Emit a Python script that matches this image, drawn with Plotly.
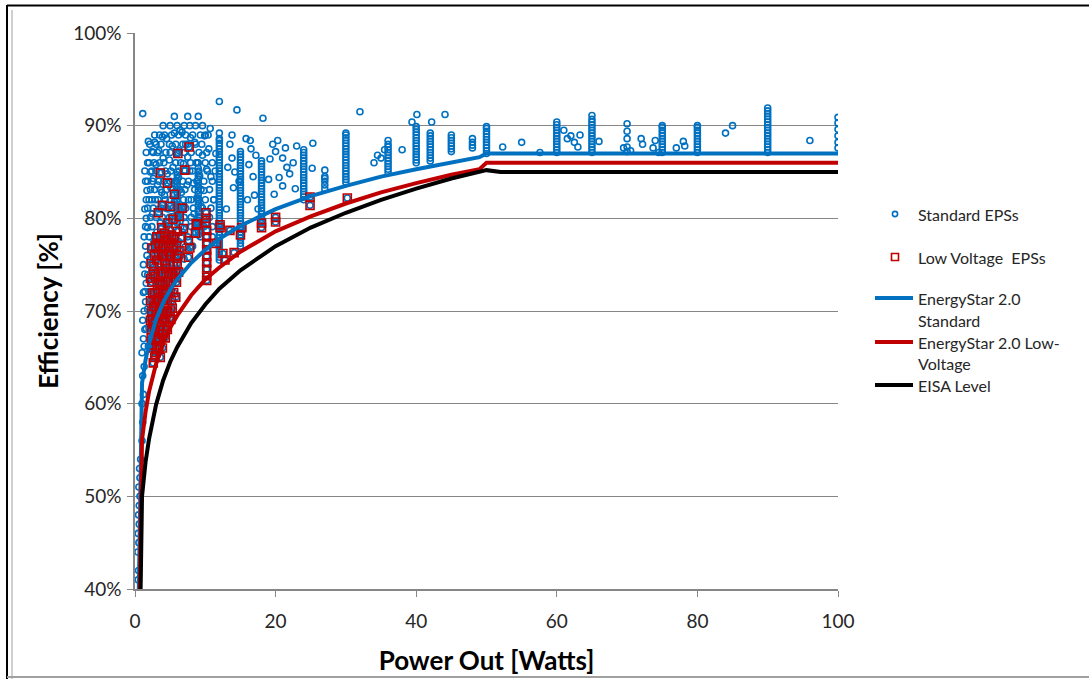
import plotly.graph_objects as go

# ---------------- data (percent efficiency vs watts) ----------------
# Standard EPS scattered points (x in W, y in %)
std_cloud = [
    (0.45, 41.0), (0.5, 42.0), (0.4, 44.0), (0.55, 45.0), (0.45, 46.0), (0.6, 47.0), (0.5, 48.0),
    (0.6, 49.0), (0.7, 50.0), (0.55, 51.0), (0.7, 52.0), (0.65, 53.0), (0.8, 54.0),
    (1.0, 56.0), (1.1, 58.0), (1.0, 60.0), (1.2, 61.0), (1.1, 63.0), (1.3, 64.0), (1.0, 65.5),
    (1.2, 67.0), (1.4, 68.0), (1.1, 69.0), (1.3, 70.0), (1.5, 71.0), (1.2, 72.0), (1.6, 73.0),
    (1.4, 74.0), (1.2, 75.0), (1.7, 76.0), (1.5, 77.0), (1.3, 78.0), (1.8, 79.0), (1.6, 80.0),
    (1.4, 81.0), (2.0, 82.0), (1.7, 83.0), (1.5, 84.0), (2.2, 85.0), (1.8, 86.0), (2.4, 87.2),
    (1.9, 88.3), (1.1, 91.3),
    (2.3, 66.0), (2.6, 68.0), (2.2, 69.5), (2.8, 70.5), (2.5, 72.0), (3.0, 73.0), (2.4, 74.5),
    (2.9, 75.5), (3.3, 76.5), (2.7, 77.5), (3.1, 78.5), (3.6, 79.5), (2.5, 80.5), (3.4, 81.0),
    (2.9, 82.0), (3.8, 82.8), (3.2, 83.6), (2.6, 84.3), (3.7, 85.0), (3.0, 85.8), (4.0, 86.5),
    (3.4, 87.3), (2.8, 88.2), (3.9, 88.8),
    (4.2, 72.0), (4.6, 73.5), (4.1, 75.0), (4.8, 76.0), (4.4, 77.2), (5.0, 78.3), (4.3, 79.3),
    (5.3, 80.2), (4.7, 81.0), (5.6, 81.8), (4.2, 82.5), (5.1, 83.3), (5.8, 84.0), (4.6, 84.8),
    (5.4, 85.5), (4.9, 86.3), (5.9, 87.0), (5.3, 87.8), (4.5, 88.6), (5.6, 89.2), (6.4, 89.5),
    (6.1, 74.5), (6.5, 76.0), (6.2, 77.5), (6.8, 78.5), (7.2, 79.5), (6.4, 80.5), (7.0, 81.3),
    (7.6, 82.0), (6.6, 82.8), (7.4, 83.6), (6.2, 84.4), (7.8, 85.1), (6.9, 85.9), (7.5, 86.6),
    (6.3, 87.3), (7.2, 88.0), (7.9, 88.7), (6.7, 89.3), (7.8, 90.0),
    (8.2, 77.0), (8.6, 78.5), (9.0, 79.5), (8.4, 80.5), (9.4, 81.3), (8.8, 82.2), (9.8, 83.0),
    (8.3, 83.8), (9.2, 84.6), (10.2, 85.3), (8.7, 86.0), (9.6, 86.8), (10.5, 87.5), (8.5, 88.2),
    (9.9, 88.9), (10.7, 89.7), (9.0, 91.0), (10.4, 89.0),
    (14.5, 91.7), (18.2, 90.8), (12.0, 92.6), (13.8, 86.5), (14.2, 85.0), (13.5, 88.0),
    (16.5, 87.5), (16.8, 84.5), (17.0, 82.5), (10.8, 84.5), (11.2, 82.0), (11.5, 87.0),
    (13.0, 81.0), (14.0, 83.3), (15.8, 88.6), (20.0, 87.2), (19.6, 88.0), (21.0, 86.5),
    (21.6, 85.5), (20.5, 84.4), (25.3, 88.1), (25.2, 85.4), (27.0, 84.3), (34.0, 86.0),
    (34.5, 86.8), (35.0, 86.5), (35.5, 87.4), (38.0, 87.4), (32.0, 91.5), (39.4, 90.4),
    (40.1, 91.2), (42.2, 90.4), (44.1, 91.2), (52.3, 87.7), (55.0, 88.2), (57.6, 87.1),
    (61.0, 89.5), (62.0, 88.9), (62.5, 88.2), (63.0, 87.7), (61.5, 88.6), (63.3, 89.0),
    (66.0, 88.3), (69.5, 87.6), (70.5, 87.3), (72.0, 88.6), (72.2, 88.0), (73.7, 87.6),
    (74.0, 88.4), (74.5, 87.1), (77.0, 87.6), (78.0, 88.3), (78.2, 87.8), (84.0, 89.2),
    (85.0, 90.0), (96.0, 88.4),
    (13.2, 85.5), (13.8, 89.0), (14.8, 84.0), (16.2, 85.8), (16.4, 88.4), (17.2, 86.8),
    (19.0, 84.2), (19.2, 86.4), (20.3, 88.4), (21.4, 87.6), (22.0, 84.8), (22.5, 86.0),
    (23.0, 87.8), (16.0, 82.0), (17.5, 81.0), (19.8, 82.6), (21.0, 83.5), (22.8, 83.2),
]

# Dense part of the standard cloud, read row by row: (efficiency, [watts...])
std_rows = [
    (66.2, [1.3, 1.9]),
    (68.1, [1.6, 2.0, 3.0]),
    (70.2, [1.8, 2.4, 3.4]),
    (72.1, [1.4, 2.0, 3.5, 4.8]),
    (73.9, [1.8, 2.6, 3.3, 5.2]),
    (75.6, [2.1, 3.8, 5.5, 7.0]),
    (76.9, [2.2, 3.9, 5.6, 7.1, 8.0]),
    (78.0, [2.0, 2.9, 4.0, 5.8, 7.5, 9.3, 11.0]),
    (79.1, [1.5, 2.4, 4.5, 5.6, 6.5, 8.0, 9.8, 11.0]),
    (80.1, [2.2, 3.0, 3.9, 4.9, 6.0, 7.0, 8.0, 9.2, 10.6]),
    (81.1, [1.8, 2.6, 3.7, 4.4, 5.4, 6.2, 7.2, 8.3, 9.6, 10.8]),
    (82.0, [1.6, 2.4, 3.3, 4.3, 5.0, 6.0, 6.9, 8.0, 9.0, 10.0, 11.2]),
    (83.1, [2.2, 2.8, 3.6, 4.5, 5.4, 6.4, 7.1, 8.5, 9.4, 10.6]),
    (84.0, [1.8, 2.5, 3.4, 4.1, 5.0, 5.9, 6.8, 7.6, 8.8, 9.8, 11.0]),
    (85.1, [1.4, 2.4, 3.0, 4.3, 5.1, 6.3, 7.1, 8.2, 9.1, 10.3, 11.4]),
    (86.0, [2.0, 2.7, 3.5, 4.1, 5.8, 6.5, 7.9, 8.9, 10.0, 11.0]),
    (87.1, [1.6, 2.6, 3.2, 4.4, 5.0, 6.1, 7.0, 8.0, 9.1, 10.2]),
    (88.0, [2.1, 3.0, 3.7, 4.9, 5.8, 6.8, 7.5, 8.6, 9.5]),
    (89.0, [2.8, 3.5, 4.2, 5.2, 6.2, 7.2, 8.2, 9.3, 10.0]),
    (90.0, [4.0, 5.0, 6.0, 7.0, 8.6, 9.6]),
    (91.0, [5.6, 7.5]),
]

# Standard EPS vertical columns at common ratings: (watts, [efficiencies])
std_columns = [
    (6, [79.5, 79.9, 80.3, 80.7, 81.1, 81.5, 81.9, 82.3, 82.7, 83.1, 83.5, 83.9, 84.3, 84.7, 85.0]),
    (9, [78.2, 78.6, 79.0, 79.4, 79.8, 80.2, 80.6, 81.0, 81.4, 81.8, 82.2, 82.6, 83.0, 83.4,
         83.8, 84.2, 84.6, 85.0, 85.4, 86.0]),
    (12, [75.5, 75.8, 76.1, 76.4, 76.7, 77.0, 77.3, 77.6, 77.9, 78.2, 78.5, 78.8, 79.1, 79.4,
          79.7, 80.0, 80.3, 80.6, 80.9, 81.2, 81.5, 81.8, 82.1, 82.4, 82.7, 83.0, 83.3, 83.6,
          83.9, 84.2, 84.5, 84.8, 85.1, 85.4, 85.7, 86.0, 86.3, 86.6, 86.9, 87.2, 87.5, 87.8,
          88.1, 88.4, 88.6, 89.2]),
    (15, [77.0, 77.3, 77.6, 77.9, 78.2, 78.5, 78.8, 79.1, 79.4, 79.7, 80.0, 80.3, 80.6, 80.9,
          81.2, 81.5, 81.8, 82.1, 82.4, 82.7, 83.0, 83.3, 83.6, 83.9, 84.2, 84.5, 84.8, 85.1,
          85.4, 85.7, 86.0, 86.3, 86.6, 86.9, 87.2]),
    (18, [79.6, 79.9, 80.2, 80.5, 80.8, 81.1, 81.4, 81.7, 82.0, 82.3, 82.6, 82.9, 83.2, 83.5,
          83.8, 84.1, 84.4, 84.7, 85.0, 85.3, 85.6, 85.9, 86.2]),
    (24, [82.0, 82.3, 82.6, 82.9, 83.2, 83.5, 83.8, 84.1, 84.4, 84.7, 85.0, 85.3, 85.6, 85.9,
          86.2, 86.5, 86.8, 87.1, 87.4]),
    (27, [83.2, 83.6, 84.0, 84.5, 85.2]),
    (30, [83.9, 84.2, 84.5, 84.8, 85.1, 85.4, 85.7, 86.0, 86.3, 86.6, 86.9, 87.2, 87.5, 87.8,
          88.1, 88.4, 88.7, 89.0, 89.2]),
    (36, [85.0, 85.3, 85.6, 85.9, 86.2, 86.5, 86.8, 87.1, 87.4, 87.7, 88.0, 88.4]),
    (40, [86.0, 86.3, 86.6, 86.9, 87.2, 87.5, 87.8, 88.1, 88.4, 88.7, 89.0, 89.3, 89.6, 89.9]),
    (42, [86.2, 86.5, 86.8, 87.1, 87.4, 87.7, 88.0, 88.3, 88.6, 88.9, 89.2]),
    (45, [87.2, 87.5, 87.8, 88.1, 88.4, 88.7, 89.0]),
    (48, [87.6, 87.9, 88.2, 88.6]),
    (50, [87.0, 87.3, 87.6, 87.9, 88.2, 88.5, 88.8, 89.1, 89.4, 89.7, 89.9]),
    (60, [87.1, 87.4, 87.7, 88.0, 88.3, 88.6, 88.9, 89.2, 89.5, 89.8, 90.1, 90.4]),
    (65, [87.1, 87.4, 87.7, 88.0, 88.3, 88.6, 88.9, 89.2, 89.5, 89.8, 90.1, 90.4, 90.7, 91.1]),
    (70, [87.2, 87.7, 88.6, 89.4, 90.2]),
    (75, [87.1, 87.4, 87.7, 88.0, 88.3, 88.6, 88.9, 89.2, 89.5, 89.8, 90.0]),
    (80, [87.1, 87.4, 87.7, 88.0, 88.3, 88.6, 88.9, 89.2, 89.5, 89.8, 90.0]),
    (90, [87.1, 87.4, 87.7, 88.0, 88.3, 88.6, 88.9, 89.2, 89.5, 89.8, 90.1, 90.4, 90.7, 91.0,
          91.3, 91.6, 91.9]),
    (100, [87.6, 88.2, 88.9, 89.6, 90.3, 90.9]),
]

# Low voltage EPSs
lv_points = [
    (3.6, 84.9), (4.6, 83.8), (6.1, 87.0), (7.7, 87.7), (7.1, 85.2), (5.6, 82.6), (5.0, 81.3),
    (6.7, 81.1), (3.3, 80.6), (10.1, 80.6), (10.1, 80.0), (10.1, 79.5), (8.7, 79.4), (6.9, 78.9),
    (12.1, 79.3), (15.2, 79.0), (20.0, 80.1), (20.0, 79.6), (18.0, 79.5), (18.0, 79.0),
    (24.9, 82.3), (24.9, 81.4), (30.2, 82.2),
    (10.2, 78.7), (10.2, 78.0), (10.2, 77.3), (10.2, 76.6), (10.2, 75.9), (10.2, 75.2),
    (10.2, 74.5), (10.2, 73.8), (10.2, 73.3),
    (8.6, 78.4), (8.8, 79.3), (7.6, 77.6), (7.8, 76.8), (7.6, 75.8), (11.6, 77.3), (12.8, 75.5),
    (12.5, 76.2), (13.5, 78.7), (14.1, 76.3), (15.0, 78.2), (12.1, 79.0),
    (2.6, 64.4), (3.0, 65.5), (2.4, 66.3), (3.3, 67.0), (2.8, 67.8), (3.6, 68.4), (2.2, 69.0),
    (3.1, 69.6), (4.0, 70.0), (2.7, 70.5), (3.5, 71.0), (4.3, 71.4), (2.5, 71.9), (3.2, 72.3),
    (3.9, 72.8), (4.6, 73.2), (2.9, 73.7), (3.7, 74.1), (4.4, 74.6), (5.0, 75.0), (3.1, 75.5),
    (4.1, 75.9), (4.8, 76.4), (5.5, 76.8), (3.4, 77.3), (4.5, 77.7), (5.2, 78.2), (6.0, 78.6),
    (3.8, 79.0), (4.9, 69.2), (5.3, 70.3), (5.8, 71.5), (4.7, 72.2), (5.6, 73.6), (6.2, 74.2),
    (5.9, 75.7), (6.4, 76.5), (5.1, 77.4), (6.6, 77.9), (4.2, 78.4), (2.9, 66.9), (3.4, 65.9),
    (3.8, 67.5), (4.2, 68.8), (4.5, 69.8), (2.6, 68.6), (3.0, 71.2), (3.6, 73.0), (4.0, 74.0),
    (2.7, 74.8), (3.3, 76.2), (4.3, 76.9), (4.7, 79.5), (5.4, 79.9), (6.3, 80.2), (3.9, 81.4),
    (2.4, 76.8), (2.2, 73.5),
]

# Dense low voltage block, read row by row: (efficiency, [watts...])
lv_rows = [
    (65.0, [2.8, 3.6]),
    (66.0, [2.5, 3.1, 3.9]),
    (67.1, [2.3, 3.0, 3.5, 4.3]),
    (68.0, [2.4, 2.9, 3.3, 4.0, 4.6]),
    (69.1, [2.5, 2.9, 3.4, 3.9, 4.4, 5.1]),
    (70.0, [2.4, 3.0, 3.4, 3.7, 4.6, 5.0]),
    (71.1, [2.2, 2.7, 3.2, 3.9, 4.6, 5.2]),
    (72.0, [2.8, 3.3, 4.1, 4.4, 5.0, 5.5]),
    (73.1, [2.4, 3.2, 3.9, 4.3, 5.1, 5.9]),
    (74.0, [2.6, 3.3, 4.8, 5.3, 5.8]),
    (75.1, [2.3, 3.5, 4.3, 5.5, 6.0]),
    (76.0, [2.8, 3.8, 4.5, 5.1, 6.1]),
    (77.0, [2.9, 3.9, 4.8, 5.9]),
    (78.0, [3.1, 3.6, 4.8, 5.6]),
]

# Requirement lines
es_std_x = [0.54, 0.8, 1, 1.5, 2, 3, 4, 5, 6, 8, 10, 12, 15, 20, 25, 30, 35, 40, 45, 49, 50, 100]
es_std_y = [40.0, 52.4, 62.2, 64.7, 66.5, 69.1, 70.9, 72.3, 73.4, 75.2, 76.6, 77.8, 79.2,
            81.0, 82.4, 83.5, 84.5, 85.3, 86.0, 86.6, 87.0, 87.0]
es_lv_x = [0.67, 0.8, 1, 1.5, 2, 3, 4, 5, 6, 8, 10, 12, 15, 20, 25, 30, 35, 40, 45, 49, 50, 100]
es_lv_y = [40.0, 46.5, 56.1, 59.1, 61.3, 64.3, 66.5, 68.2, 69.5, 71.7, 73.4, 74.7, 76.4,
           78.6, 80.2, 81.6, 82.8, 83.8, 84.7, 85.3, 86.0, 86.0]
eisa_x = [0.8, 0.9, 1, 1.5, 2, 3, 4, 5, 6, 8, 10, 12, 15, 20, 25, 30, 35, 40, 45, 50, 52, 100]
eisa_y = [40.0, 45.0, 50.0, 53.7, 56.2, 59.9, 62.5, 64.5, 66.1, 68.7, 70.7, 72.4, 74.4,
          77.0, 79.0, 80.6, 82.0, 83.2, 84.3, 85.2, 85.0, 85.0]

y_ticks = [40, 50, 60, 70, 80, 90, 100]
y_tick_text = ["40%", "50%", "60%", "70%", "80%", "90%", "100%"]
x_ticks = [0, 20, 40, 60, 80, 100]
x_tick_text = ["0", "20", "40", "60", "80", "100"]

series_names = ["Standard EPSs", "Low Voltage  EPSs", "EnergyStar 2.0 Standard",
                "EnergyStar 2.0 Low-Voltage", "EISA Level"]
legend_lines = [["Standard EPSs"], ["Low Voltage  EPSs"], ["EnergyStar 2.0", "Standard"],
                ["EnergyStar 2.0 Low-", "Voltage"], ["EISA Level"]]

# ---------------- build ----------------
lv_x = [p[0] for p in lv_points]
lv_y = [p[1] for p in lv_points]
for yv, xs in lv_rows:
    lv_x += xs
    lv_y += [yv] * len(xs)

std_x = [p[0] for p in std_cloud]
std_y = [p[1] for p in std_cloud]
for yv, xs in std_rows:
    std_x += xs
    std_y += [yv] * len(xs)
for cx, ys in std_columns:
    std_x += [cx] * len(ys)
    std_y += ys
# the standard series also holds the low-voltage products (visible inside the open squares)
std_x += lv_x
std_y += lv_y

BLUE = "#0070C0"
RED = "#C00000"
FONT = "Lato, Carlito, Calibri, sans-serif"
TXT = "#262626"

fig = go.Figure()
fig.add_trace(go.Scatter(
    x=std_x, y=std_y, mode="markers", name=series_names[0],
    marker=dict(symbol="circle-open", size=6, color=BLUE, line=dict(width=1.6, color=BLUE)),
))
fig.add_trace(go.Scatter(
    x=lv_x, y=lv_y, mode="markers", name=series_names[1],
    marker=dict(symbol="square-open", size=8, color=RED, line=dict(width=1.6, color=RED)),
))
fig.add_trace(go.Scatter(x=es_std_x, y=es_std_y, mode="lines", name=series_names[2],
                         line=dict(color=BLUE, width=4)))
fig.add_trace(go.Scatter(x=es_lv_x, y=es_lv_y, mode="lines", name=series_names[3],
                         line=dict(color=RED, width=4)))
fig.add_trace(go.Scatter(x=eisa_x, y=eisa_y, mode="lines", name=series_names[4],
                         line=dict(color="black", width=4)))

L, R, T, B = 135, 251, 33, 90
W, H = 1089, 679
pw, ph = W - L - R, H - T - B


def px(xp):
    return (xp - L) / pw


def py(yp):
    return (H - B - yp) / ph


shapes = [
    dict(type="line", xref="paper", yref="paper", x0=px(7), x1=px(1095), y0=py(5.5), y1=py(5.5),
         line=dict(color="black", width=2)),
    dict(type="line", xref="paper", yref="paper", x0=px(7), x1=px(7), y0=py(5), y1=py(690),
         line=dict(color="black", width=2)),
    dict(type="line", xref="paper", yref="paper", x0=px(12), x1=px(12), y0=py(10), y1=py(690),
         line=dict(color="#A0A0A0", width=1)),
    dict(type="line", xref="paper", yref="paper", x0=px(7), x1=px(1095), y0=py(677), y1=py(677),
         line=dict(color="#A0A0A0", width=2)),
]

# manual legend (positions in pixels)
leg_text_x = 917
leg_sym_cx = 895
leg_rows_y = [[214], [257], [298, 320], [342, 363], [385]]
shapes.append(dict(type="circle", xref="paper", yref="paper",
                   x0=px(leg_sym_cx - 2.6), x1=px(leg_sym_cx + 2.6),
                   y0=py(214 + 2.6), y1=py(214 - 2.6), line=dict(color=BLUE, width=1.6)))
shapes.append(dict(type="rect", xref="paper", yref="paper",
                   x0=px(leg_sym_cx - 3.5), x1=px(leg_sym_cx + 3.5),
                   y0=py(257 + 3.5), y1=py(257 - 3.5), line=dict(color=RED, width=1.6)))
for col, yy in [(BLUE, 298), (RED, 342), ("black", 385)]:
    shapes.append(dict(type="line", xref="paper", yref="paper", x0=px(875), x1=px(913),
                       y0=py(yy), y1=py(yy), line=dict(color=col, width=4)))

annotations = []
for lines, ys in zip(legend_lines, leg_rows_y):
    for t, yy in zip(lines, ys):
        annotations.append(dict(text=t, xref="paper", yref="paper", x=px(leg_text_x), y=py(yy),
                                xanchor="left", yanchor="middle", showarrow=False, borderpad=0,
                                font=dict(family=FONT, size=16, color=TXT)))

fig.update_layout(
    width=W, height=H,
    margin=dict(l=L, r=R, t=T, b=B, pad=0, autoexpand=False),
    paper_bgcolor="white", plot_bgcolor="white",
    font=dict(family=FONT, size=19, color=TXT),
    showlegend=False,
    shapes=shapes,
    annotations=annotations,
)
fig.update_xaxes(
    range=[0, 100], tickvals=x_ticks, ticktext=x_tick_text, showgrid=False, zeroline=False,
    showline=True, linecolor="#868686", linewidth=1.5, automargin=False,
    ticks="outside", ticklen=6, tickcolor="#868686", ticklabelstandoff=8,
    tickfont=dict(family=FONT, size=19, color=TXT),
    title=dict(text="<b>Power Out [Watts]</b>", font=dict(family=FONT, size=26, color="black"),
               standoff=21),
)
fig.update_yaxes(
    range=[40, 100], tickvals=y_ticks, ticktext=y_tick_text, showgrid=True, gridcolor="#868686",
    gridwidth=1, zeroline=False, showline=True, linecolor="#868686", linewidth=1.5,
    automargin=False,
    ticks="outside", ticklen=6, tickcolor="#868686", ticklabelstandoff=2,
    tickfont=dict(family=FONT, size=19, color=TXT),
    title=dict(text="<b>Efficiency [%]</b>", font=dict(family=FONT, size=26, color="black"),
               standoff=7),
)

fig.write_html("out.html")
